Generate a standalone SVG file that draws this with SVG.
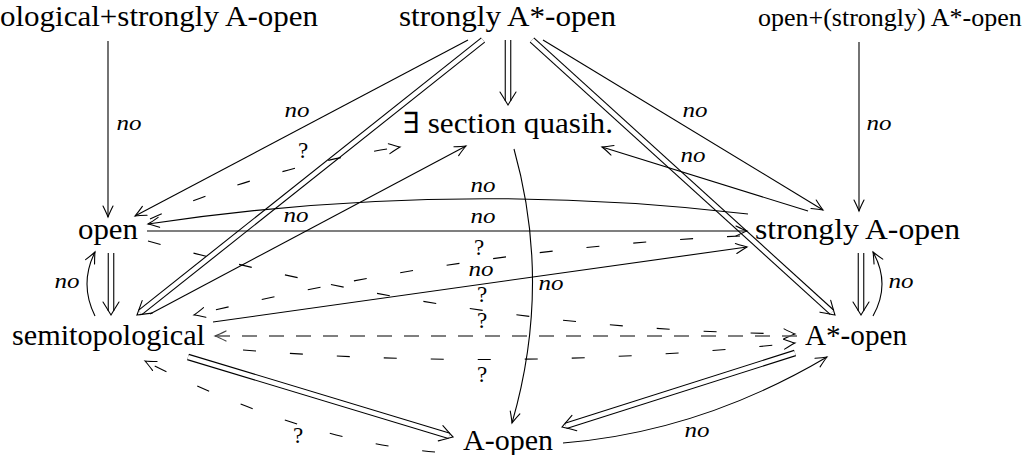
<svg xmlns="http://www.w3.org/2000/svg" width="1026" height="455" viewBox="0 0 1026 455">
  <style>
    .nd { font-family: "Liberation Serif", "DejaVu Serif", serif; font-size: 29px; fill: #000; }
    .nd.sm { font-size: 26px; }
    .lb { font-family: "Liberation Serif", "DejaVu Serif", serif; font-size: 20px; font-style: italic; fill: #000; text-anchor: middle; }
    .q { font-family: "Liberation Serif", "DejaVu Serif", serif; font-size: 23px; fill: #000; text-anchor: middle; }
    .ln { fill: none; stroke: #000; stroke-width: 1.1; }
    .ds { stroke-dasharray: 13 34; }
    .dn { stroke: #555; stroke-width: 1.3; stroke-dasharray: 15 12; }
    .dbo { fill: none; stroke: #000; stroke-width: 6.6; }
    .dbi { fill: none; stroke: #fff; stroke-width: 4.4; }
    .hd { fill: none; stroke: #000; stroke-width: 1.1; stroke-linecap: round; }
    .hdg { fill: none; stroke: #444; stroke-width: 1.2; stroke-linecap: round; }
  </style>
  <defs>
    <marker id="ah" markerUnits="userSpaceOnUse" markerWidth="30" markerHeight="30" viewBox="-15 -15 30 30" refX="0" refY="0" orient="auto">
      <path class="hd" d="M-11,-5 Q-4,-1.5 0,0 Q-4,1.5 -11,5"/>
    </marker>
    <marker id="ahg" markerUnits="userSpaceOnUse" markerWidth="30" markerHeight="30" viewBox="-15 -15 30 30" refX="0" refY="0" orient="auto">
      <path class="hdg" d="M-11,-5 Q-4,-1.5 0,0 Q-4,1.5 -11,5"/>
    </marker>
    <marker id="ah2" markerUnits="userSpaceOnUse" markerWidth="40" markerHeight="40" viewBox="-20 -20 40 40" refX="-4" refY="0" orient="auto">
      <path class="hd" d="M-13,-8 Q-5,-3 0,0 Q-5,3 -13,8"/>
    </marker>
  </defs>

  <!-- connectors -->
  <g id="connectors">
    <!-- implications (double lines) -->
    <g id="implications">
      <path class="dbo" d="M508,40 L508,101"/><path class="dbi" d="M508,40 L508,101" marker-end="url(#ah2)"/>
      <path class="dbo" d="M483,40 L140.1,312.5"/><path class="dbi" d="M483,40 L140.1,312.5" marker-end="url(#ah2)"/>
      <path class="dbo" d="M532,40 L832,312.3"/><path class="dbi" d="M532,40 L832,312.3" marker-end="url(#ah2)"/>
      <path class="dbo" d="M111,253 L111,311"/><path class="dbi" d="M111,253 L111,311" marker-end="url(#ah2)"/>
      <path class="dbo" d="M861,253 L861,311"/><path class="dbi" d="M861,253 L861,311" marker-end="url(#ah2)"/>
      <path class="dbo" d="M188,357 L449.2,435.8"/><path class="dbi" d="M188,357 L449.2,435.8" marker-end="url(#ah2)"/>
      <path class="dbo" d="M795,353 L565.8,425.8"/><path class="dbi" d="M795,353 L565.8,425.8" marker-end="url(#ah2)"/>
    </g>
    <!-- non-implications and open questions -->
    <path class="ln" d="M108,41 L108,217" marker-end="url(#ah)"/>
    <path class="ln" d="M859,42 L859,211" marker-end="url(#ah)"/>
    <path class="ln" d="M468,40 L135,216" marker-end="url(#ah)"/>
    <path class="ln" d="M543,40 L823,210" marker-end="url(#ah)"/>
    <path class="ln ds" d="M150,219 Q262,168 400,147" marker-end="url(#ah)"/>
    <path class="ln" d="M150,314 L466,146" marker-end="url(#ah)"/>
    <path class="ln" d="M808,211 L602,147" marker-end="url(#ah)"/>
    <path class="ln" d="M514,149 Q552,285 512,423" marker-end="url(#ah)"/>
    <path class="ln" d="M748,214 Q448,179 148,224" marker-end="url(#ah)"/>
    <path class="ln" d="M147,231 L747,231" marker-end="url(#ah)"/>
    <path class="ln ds" d="M740,236 Q467,249 194,315" marker-end="url(#ah)"/>
    <path class="ln" d="M213,322 L747,247" marker-end="url(#ah)"/>
    <path class="ln ds" d="M148,241 Q471,330 795,334" marker-end="url(#ah)"/>
    <path class="ln dn" d="M797,336 L215,336" marker-end="url(#ahg)"/>
    <path class="ln ds" d="M243,350 Q519,372 795,343" marker-end="url(#ah)"/>
    <path class="ln" d="M95,316 Q79,284 95,252" marker-end="url(#ah)"/>
    <path class="ln" d="M873,316 Q891,284 873,252" marker-end="url(#ah)"/>
    <path class="ln ds" d="M435,452 Q300,440 145,361" marker-end="url(#ah)"/>
    <path class="ln" d="M563,443 Q700,432 827,357" marker-end="url(#ah)"/>

    <!-- connector labels -->
    <g id="edge-labels">
      <text class="lb" x="129" y="130" textLength="25" lengthAdjust="spacingAndGlyphs">no</text>
      <text class="lb" x="297" y="117" textLength="25" lengthAdjust="spacingAndGlyphs">no</text>
      <text class="q" x="303" y="158">?</text>
      <text class="lb" x="695" y="117" textLength="25" lengthAdjust="spacingAndGlyphs">no</text>
      <text class="lb" x="879" y="130" textLength="25" lengthAdjust="spacingAndGlyphs">no</text>
      <text class="lb" x="693" y="162" textLength="25" lengthAdjust="spacingAndGlyphs">no</text>
      <text class="lb" x="483" y="192" textLength="25" lengthAdjust="spacingAndGlyphs">no</text>
      <text class="lb" x="483" y="223" textLength="25" lengthAdjust="spacingAndGlyphs">no</text>
      <text class="lb" x="296" y="222" textLength="25" lengthAdjust="spacingAndGlyphs">no</text>
      <text class="q" x="479" y="255">?</text>
      <text class="lb" x="481" y="276" textLength="25" lengthAdjust="spacingAndGlyphs">no</text>
      <text class="q" x="482" y="302">?</text>
      <text class="q" x="482" y="328">?</text>
      <text class="q" x="482" y="382">?</text>
      <text class="lb" x="551" y="290" textLength="25" lengthAdjust="spacingAndGlyphs">no</text>
      <text class="lb" x="67" y="288" textLength="25" lengthAdjust="spacingAndGlyphs">no</text>
      <text class="lb" x="901" y="288" textLength="25" lengthAdjust="spacingAndGlyphs">no</text>
      <text class="q" x="298" y="443">?</text>
      <text class="lb" x="697" y="437" textLength="25" lengthAdjust="spacingAndGlyphs">no</text>
    </g>
  </g>

  <!-- nodes -->
  <g id="semitop-strongly-a-open"><text class="nd" x="0" y="26" textLength="318" lengthAdjust="spacingAndGlyphs">ological+strongly A-open</text></g>
  <g id="strongly-a-star-open"><text class="nd" x="399" y="26" textLength="217" lengthAdjust="spacingAndGlyphs">strongly A*-open</text></g>
  <g id="open-a-star-open"><text class="nd sm" x="758" y="26">open+(strongly) A*-open</text></g>
  <g id="section-quasih"><text class="nd" x="403" y="133" textLength="210" lengthAdjust="spacingAndGlyphs">∃ section quasih.</text></g>
  <g id="open"><text class="nd" x="78" y="239" textLength="60" lengthAdjust="spacingAndGlyphs">open</text></g>
  <g id="strongly-a-open"><text class="nd" x="755" y="239" textLength="205" lengthAdjust="spacingAndGlyphs">strongly A-open</text></g>
  <g id="semitopological"><text class="nd" x="12" y="345" textLength="193" lengthAdjust="spacingAndGlyphs">semitopological</text></g>
  <g id="a-star-open"><text class="nd" x="805" y="345" textLength="102" lengthAdjust="spacingAndGlyphs">A*-open</text></g>
  <g id="a-open"><text class="nd" x="463" y="450" textLength="90" lengthAdjust="spacingAndGlyphs">A-open</text></g>
</svg>
